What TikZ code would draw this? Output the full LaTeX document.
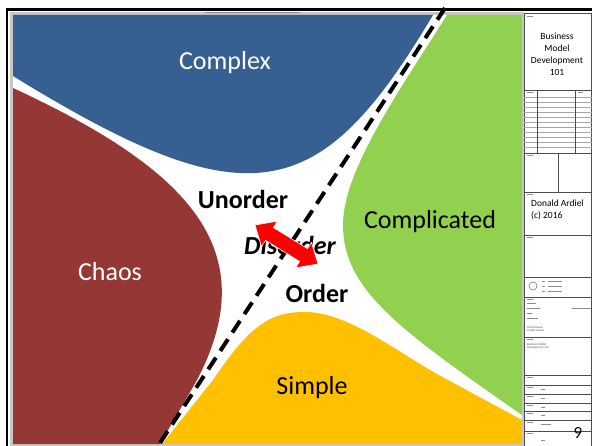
\documentclass[tikz,border=0pt]{standalone}
\usepackage{fontspec}
\setmainfont{Carlito}
\usetikzlibrary{calc}
\definecolor{cxblue}{HTML}{376092}
\definecolor{cxred}{HTML}{953735}
\definecolor{cxgreen}{HTML}{92D050}
\definecolor{cxyellow}{HTML}{FFC000}
\begin{document}
\begin{tikzpicture}[x=1pt,y=-1pt,
  zonelabel/.style={font=\fontsize{26}{30}\selectfont, inner sep=0},
  orderlabel/.style={font=\bfseries\fontsize{26}{30}\selectfont, inner sep=0},
  tbline/.style={draw=black!70, line width=0.6pt},
  tbthin/.style={draw=black!35, line width=0.4pt},
  scrib/.style={draw=black!45, line width=0.7pt},
  tbtext/.style={font=\fontsize{9.5}{12}\selectfont, inner sep=0},
  tbtiny/.style={font=\fontsize{3}{3.6}\selectfont, inner sep=0, text=black!70, align=left},
]
\useasboundingbox (0,0) rectangle (592,446);
\fill[white] (0,0) rectangle (592,446);
% frame
\fill[black!22] (10,12) rectangle (524,446);
\fill[white] (13,15) rectangle (522,444);
\draw[black!45, line width=1pt] (205,13) -- (300,13);
\draw[line width=2.6pt] (7,446) -- (7,9.3) -- (592,9.3);
% regions
\fill[cxblue] (13,15) -- (433,15) .. controls (320,205) and (250,222) .. (13,76) -- cycle;
\fill[cxred] (13,88) .. controls (190,170) and (265,250) .. (197,380) -- (160,444) -- (13,444) -- cycle;
\fill[cxgreen] (447,15) -- (522,15) -- (522,415) .. controls (400,330) and (343,290) .. (343,225) .. controls (343,170) and (400,90) .. (447,15) -- cycle;
\fill[cxyellow] (162,444) -- (213,380) .. controls (250,325) and (270,312) .. (305,312) .. controls (350,312) and (400,355) .. (448,380) -- (522,420) -- (522,444) -- cycle;
% labels
\node[zonelabel, text=white] (complex) at (225,63) {Complex};
\node[zonelabel, text=white] (chaos) at (110,272) {Chaos};
\node[zonelabel] (complicated) at (430,222) {Complicated};
\node[zonelabel] (simple) at (312,388) {Simple};
\node[orderlabel] (unorder) at (243,199) {Unorder};
\node[orderlabel, font=\bfseries\itshape\fontsize{26}{30}\selectfont] (disorder) at (290,245) {Disorder};
\node[orderlabel] (order) at (317,293) {Order};
% dashed divider
\coordinate (dtop) at (445,8);
\coordinate (dbot) at (158,446);
\draw[line width=4pt, dash pattern=on 14pt off 8pt] (dtop) -- (dbot);
% double arrow
\coordinate (arrA) at (255,225);
\coordinate (arrB) at (318,264);
\path ($(arrA)!17pt!(arrB)$) coordinate (hA) ($(arrB)!17pt!(arrA)$) coordinate (hB);
\filldraw[fill=red, draw=white, line width=0.6pt] (arrA) -- ($(hA)!15pt!90:(arrB)$) -- ($(hA)!7.5pt!90:(arrB)$) -- ($(hB)!7.5pt!-90:(arrA)$) -- ($(hB)!15pt!-90:(arrA)$) -- (arrB) -- ($(hB)!15pt!90:(arrA)$) -- ($(hB)!7.5pt!90:(arrA)$) -- ($(hA)!7.5pt!-90:(arrB)$) -- ($(hA)!15pt!-90:(arrB)$) -- cycle;
% title block
\fill[white] (524,13) rectangle (592,446);
\draw[tbline] (524,13) rectangle (591.5,446);
\foreach \y in {90,153,192,235,277,297,337,375,431}
  \draw[tbline] (524,\y) -- (591.5,\y);
\foreach \y in {97,102,107,112,117,122,127,132,137,142,147}
  \draw[tbthin] (524,\y) -- (591.5,\y);
\foreach \y in {385,394,403,411,420}
  \draw[tbline] (524,\y) -- (591.5,\y);
\draw[tbline] (537,90) -- (537,153);
\draw[tbline] (575,90) -- (575,153);
\draw[tbline] (558,153) -- (558,192);
% small cell captions (illegible marks)
\foreach \y in {16,155,194,237,299,339,377,387,396,405,413,422,433}
  \draw[scrib] (527,\y) -- (533,\y);
\draw[scrib] (527,92) -- (533,92);
\draw[scrib] (578,92) -- (583,92);
\foreach \y in {387,396,405,413}
  \draw[scrib] (541,\y+2) -- (545,\y+2);
\draw[scrib] (541,424) -- (551,424);
\draw[scrib] (541,440) -- (545,440);
% logo
\draw[black!60, line width=0.5pt] (533,286) circle (4);
\foreach \y in {281,286,291} {
  \draw[scrib] (542,\y) -- (545,\y);
  \draw[scrib] (548,\y) -- (562,\y);
}
\draw[scrib] (527,303) -- (536,303);
\draw[scrib] (527,308) -- (540,308);
\draw[scrib] (527,313) -- (532,313);
\draw[scrib] (527,318) -- (538,318);
\draw[scrib] (572,308) -- (591,308);
\node[tbtiny, anchor=north west] (tbcanvas) at (527,326) {The Business\\Model Canvas};
\node[tbtiny, anchor=north west] (tbdev) at (527,343) {Business Model\\Development 101};
% title block texts
\node[tbtext, align=center] (tbtitle) at (557,54) {Business\\Model\\Development\\101};
\node[tbtext, align=left, anchor=west] (tbauthor) at (531,210) {Donald Ardiel\\(c) 2016};
\node[font=\fontsize{17}{19}\selectfont, inner sep=0] (page) at (578,433) {9};
\end{tikzpicture}
\end{document}
